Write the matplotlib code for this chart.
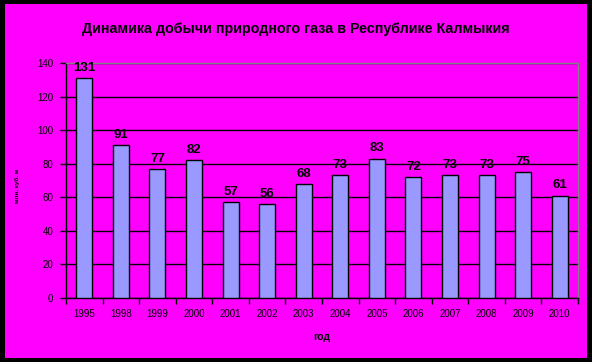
import matplotlib
matplotlib.use("Agg")
import matplotlib.pyplot as plt
from matplotlib.patches import Rectangle
import numpy as np

plt.rcParams["font.family"] = ["Liberation Sans", "DejaVu Sans"]

years = ["1995", "1998", "1999", "2000", "2001", "2002", "2003", "2004",
         "2005", "2006", "2007", "2008", "2009", "2010"]
values = [131, 91, 77, 82, 57, 56, 68, 73, 83, 72, 73, 73, 75, 61]
yticks = [0, 20, 40, 60, 80, 100, 120, 140]

W, H = 592, 362
fig = plt.figure(figsize=(W / 100, H / 100), dpi=100)
fig.patch.set_facecolor("black")
fig.patches.append(Rectangle((5 / W, 4 / H), (587 - 5) / W, (358 - 4) / H,
                             transform=fig.transFigure, facecolor="#FF00FF",
                             edgecolor="none", zorder=-5))

ax = fig.add_axes([66 / W, (H - 298) / H, (578 - 66) / W, (298 - 63) / H])
ax.set_zorder(2)
ax.set_facecolor("#FF00FF")
x = np.arange(len(years))
ax.bar(x, values, width=0.44, color="#9999FF", edgecolor="black", linewidth=1, zorder=3)
for xi, v in zip(x, values):
    ax.text(xi, v + 2.5, str(v), ha="center", va="bottom", fontsize=9.5,
            fontweight="bold", color="black", zorder=4)

ax.set_xlim(-0.5, len(years) - 0.5)
ax.set_ylim(0, 140)
ax.set_yticks(yticks)
ax.set_yticklabels([str(t) for t in yticks], fontsize=7)
ax.set_xticks(x)
ax.set_xticklabels(years, fontsize=7)
ax.tick_params(axis="x", length=0, pad=8)
ax.set_xticks(np.arange(len(years) + 1) - 0.5, minor=True)
ax.tick_params(axis="x", which="minor", length=4, width=1, color="black")
ax.tick_params(axis="y", length=4, width=1, color="black", pad=5)
ax.yaxis.grid(True, color="black", linewidth=1, zorder=1)
ax.set_axisbelow(True)
for s in ["top", "right"]:
    ax.spines[s].set_color("#808080")
    ax.spines[s].set_linewidth(1)
for s in ["left", "bottom"]:
    ax.spines[s].set_color("black")
    ax.spines[s].set_linewidth(1)

ax.set_xlabel("год", fontsize=7.5, fontweight="bold", labelpad=9)
fig.text(17 / W, 1 - 186 / H, "млн. куб. м", rotation=90, ha="center", va="center",
         fontsize=4.5, fontweight="bold", zorder=5)
fig.text(0.5, 1 - 29 / H, "Динамика добычи природного газа в Республике Калмыкия",
         ha="center", va="center", fontsize=10.3, fontweight="bold", zorder=5)

fig.savefig("out.png", dpi=100, facecolor=fig.get_facecolor())
